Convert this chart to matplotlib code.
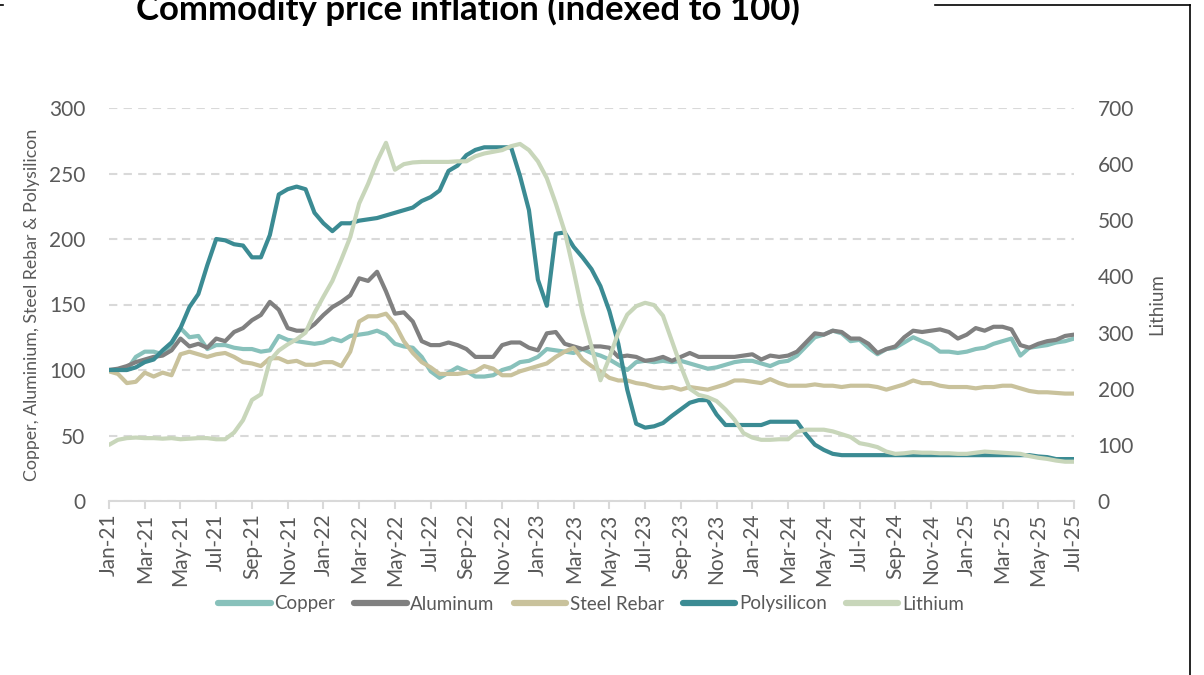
import numpy as np
import matplotlib
matplotlib.use("Agg")
import matplotlib.pyplot as plt
from matplotlib.lines import Line2D

plt.rcParams['font.family'] = ['Lato', 'DejaVu Sans']

# half-month steps from Jan-21 to Jul-25
copper = [100, 100, 100, 110, 114, 114, 112, 120, 132, 125, 126, 116, 119, 119, 117, 116, 116, 114,
          115, 126, 123, 122, 121, 120, 121, 124, 122, 126, 127, 128, 130, 127, 120, 118, 117, 110,
          99, 94, 98, 102, 99, 95, 95, 96, 100, 102, 106, 107, 110, 116, 115, 114, 113, 116,
          113, 111, 108, 104, 100, 106, 107, 106, 107, 106, 107, 105, 103, 101, 102, 104, 106, 107,
          107, 105, 103, 106, 107, 111, 118, 125, 127, 130, 128, 122, 123, 117, 112, 116, 117, 121,
          125, 122, 119, 114, 114, 113, 114, 116, 117, 120, 122, 124, 111, 117, 118, 119, 121, 122, 124]
aluminum = [100, 101, 103, 106, 108, 110, 111, 115, 124, 118, 120, 117, 124, 122, 129, 132, 138, 142,
            152, 146, 132, 130, 130, 135, 142, 148, 152, 157, 170, 168, 175, 160, 143, 144, 137, 122,
            119, 119, 121, 119, 116, 110, 110, 110, 119, 121, 121, 117, 115, 128, 129, 120, 118, 116,
            118, 118, 117, 110, 111, 110, 107, 108, 110, 107, 110, 113, 110, 110, 110, 110, 110, 111,
            112, 108, 111, 110, 111, 114, 121, 128, 127, 130, 129, 124, 124, 120, 113, 116, 118, 125,
            130, 129, 130, 131, 129, 124, 127, 132, 130, 133, 133, 131, 119, 117, 120, 122, 123, 126, 127]
steel_rebar = [99, 97, 90, 91, 98, 95, 98, 96, 112, 114, 112, 110, 112, 113, 110, 106, 105, 103,
               109, 109, 106, 107, 104, 104, 106, 106, 103, 114, 137, 141, 141, 143, 135, 122, 113, 106,
               102, 97, 97, 97, 98, 99, 103, 101, 96, 96, 99, 101, 103, 105, 110, 114, 117, 108,
               103, 99, 94, 92, 92, 90, 89, 87, 86, 87, 85, 87, 86, 85, 87, 89, 92, 92,
               91, 90, 93, 90, 88, 88, 88, 89, 88, 88, 87, 88, 88, 88, 87, 85, 87, 89,
               92, 90, 90, 88, 87, 87, 87, 86, 87, 87, 88, 88, 86, 84, 83, 83, 82.5, 82, 82]
polysilicon = [100, 100, 100, 102, 106, 108, 115, 121, 132, 148, 158, 180, 200, 199, 196, 195, 186, 186,
               203, 234, 238, 240, 238, 220, 212, 206, 212, 212, 214, 215, 216, 218, 220, 222, 224, 229,
               232, 237, 252, 256, 264, 268, 270, 270, 270, 270, 248, 222, 169, 149, 204, 205, 194, 186,
               177, 164, 145, 120, 85, 59, 56, 57, 59.5, 65, 70, 75, 77, 77, 66, 58, 58, 58,
               58, 58, 60.5, 60.5, 60.5, 60.5, 51, 43, 39, 36, 35, 35, 35, 35, 35, 35, 35, 35,
               35, 35, 35, 35, 35, 35, 35, 35, 35, 35, 35, 35, 35, 35, 34, 33.5, 32, 32, 32]
# lithium is read on the right axis
lithium = [100, 109, 112, 113, 112, 112, 111, 112, 110, 111, 112, 112, 110, 110, 122, 144, 180, 190,
           250, 268, 279, 288, 300, 335, 364, 392, 430, 470, 530, 565, 605, 638, 590, 600, 603, 604,
           604, 604, 604, 605, 605, 614, 619, 622, 625, 632, 636, 625, 605, 575, 530, 480, 410, 335,
           275, 215, 255, 300, 332, 347, 353, 349, 330, 285, 240, 200, 189, 185, 178, 163, 145, 121,
           113, 109, 109, 110, 110, 123, 127, 127, 127, 124, 119, 114, 103, 100, 96, 88, 84, 85,
           87, 86, 86, 85, 85, 84, 84, 86, 88, 87, 86, 85, 84, 80, 77, 75, 72, 70, 70]

tick_labels = ['Jan-21', 'Mar-21', 'May-21', 'Jul-21', 'Sep-21', 'Nov-21',
               'Jan-22', 'Mar-22', 'May-22', 'Jul-22', 'Sep-22', 'Nov-22',
               'Jan-23', 'Mar-23', 'May-23', 'Jul-23', 'Sep-23', 'Nov-23',
               'Jan-24', 'Mar-24', 'May-24', 'Jul-24', 'Sep-24', 'Nov-24',
               'Jan-25', 'Mar-25', 'May-25', 'Jul-25']

names = ['Copper', 'Aluminum', 'Steel Rebar', 'Polysilicon', 'Lithium']
colors = ['#88C1BB', '#808080', '#C9C29C', '#3B8B93', '#C8D6BA']

months = np.arange(len(copper)) / 2.0
txt = '#595959'
grid = '#D9D9D9'

fig = plt.figure(figsize=(12.04, 6.75), dpi=100)
ax = fig.add_axes([109/1204, 1 - 501/675, 965/1204, 393/675])
ax2 = ax.twinx()

lw = 3.0
for s, c in zip([copper, aluminum, steel_rebar, polysilicon], colors[:4]):
    ax.plot(months, s, color=c, lw=lw, solid_joinstyle='round', solid_capstyle='round')
ax2.plot(months, lithium, color=colors[4], lw=lw, solid_joinstyle='round', solid_capstyle='round')

ax.set_xlim(0, 54)
ax.set_ylim(0, 300)
ax2.set_ylim(0, 700)
ax.set_yticks(np.arange(0, 301, 50))
ax2.set_yticks(np.arange(0, 701, 100))
ax.set_xticks(np.arange(0, 55, 2))
ax.set_xticklabels(tick_labels, rotation=90)

for a in (ax, ax2):
    for sp in a.spines.values():
        sp.set_visible(False)
ax.spines['bottom'].set_visible(True)
ax.spines['bottom'].set_color(grid)
ax.spines['bottom'].set_linewidth(1.5)
ax.yaxis.grid(True, color=grid, ls=(0, (4, 3)), lw=1.5)
ax.set_axisbelow(True)

ax.tick_params(axis='y', length=0, labelsize=15, labelcolor=txt, pad=17)
ax2.tick_params(axis='y', length=0, labelsize=15, labelcolor=txt, pad=17)
ax.tick_params(axis='x', length=6, width=1.5, color=grid, direction='out',
               labelsize=15, labelcolor=txt, pad=3)

fig.text(32/1204, 1 - 304.5/675, 'Copper, Aluminium, Steel Rebar & Polysilicon',
         rotation=90, ha='center', va='center', fontsize=12.8, color=txt)
fig.text(1157/1204, 1 - 304.5/675, 'Lithium', rotation=90, ha='center', va='center',
         fontsize=13.5, color=txt)

# title sits partly above the top edge, as in the source
fig.text(468/1204, 1 - 9/675, 'Commodity price inflation (indexed to 100)',
         ha='center', va='center', fontsize=25, fontweight='bold', color='black')

# chart frame pieces
fig.add_artist(Line2D([935/1204, 1190/1204], [1 - 5/675, 1 - 5/675], color='black', lw=1.2))
fig.add_artist(Line2D([1190/1204, 1190/1204], [1 - 5/675, 0], color='black', lw=1.2))
fig.add_artist(Line2D([0, 3/1204], [1 - 5/675, 1 - 5/675], color='black', lw=1.2))

handles = [Line2D([], [], color=c, lw=4.5, solid_capstyle='round') for c in colors]
fig.legend(handles, names, loc='center', bbox_to_anchor=(591/1204, 1 - 604/675), ncol=5,
           frameon=False, fontsize=13.5, labelcolor=txt, handlelength=2.8, handletextpad=0.2,
           columnspacing=1.0)

fig.savefig('out.png', dpi=100)
